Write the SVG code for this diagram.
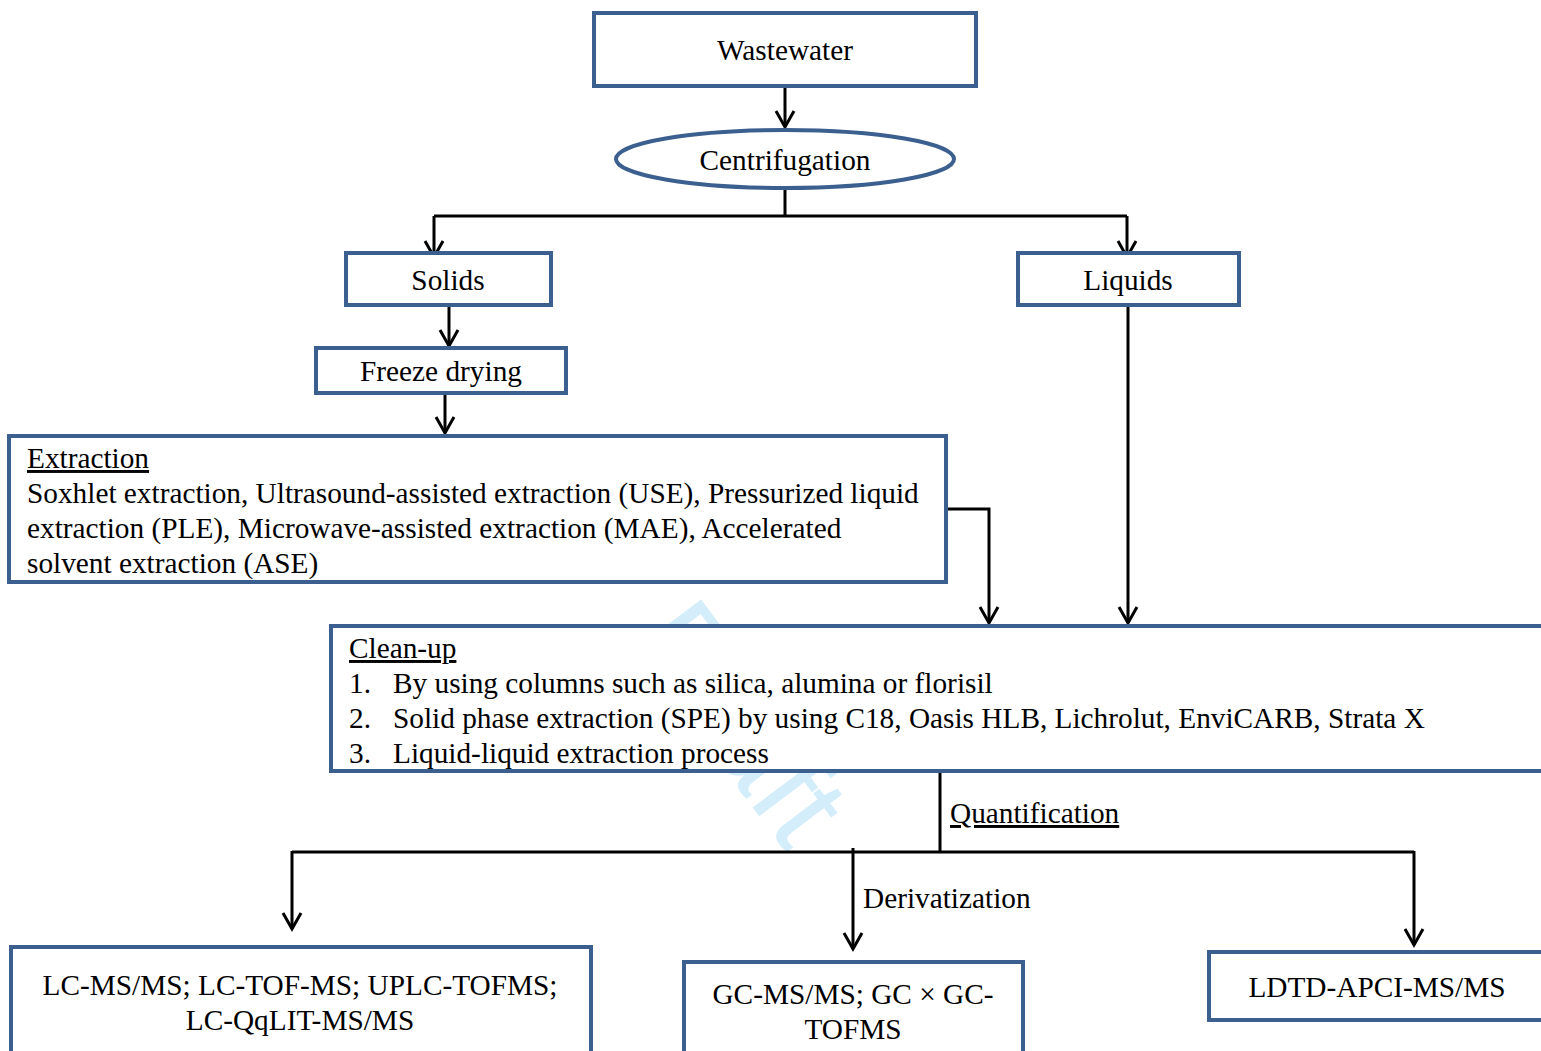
<svg xmlns="http://www.w3.org/2000/svg" width="1541" height="1051" viewBox="0 0 1541 1051">
<defs>
<style>
.box{fill:#fff;stroke:#3b5f8e;stroke-width:4}
.t{font-family:"Liberation Serif","Times New Roman",serif;font-size:29.3px;fill:#000}
.c{text-anchor:middle}
.u{text-decoration:underline}
.ln{fill:none;stroke:#000;stroke-width:3}
.wm{font-family:"Liberation Sans",Arial,sans-serif;font-size:122px;fill:#d3edfb}
</style>
<marker id="arr" markerUnits="userSpaceOnUse" markerWidth="30" markerHeight="30" refX="0" refY="0" viewBox="-20 -15 30 30" orient="auto" overflow="visible">
<path d="M-16,-9 L0,0 L-16,9" fill="none" stroke="#000" stroke-width="3"/>
</marker>
</defs>
<rect width="1541" height="1051" fill="#fff"/>
<text class="wm" transform="translate(628,642) rotate(53)">Draft</text>
<g id="connectors">
<line class="ln" x1="785" y1="86" x2="785" y2="127" marker-end="url(#arr)"/>
<polyline class="ln" points="785,188 785,216"/>
<polyline class="ln" points="434,216 1127,216"/>
<line class="ln" x1="434" y1="216" x2="434" y2="257" marker-end="url(#arr)"/>
<line class="ln" x1="1127" y1="216" x2="1127" y2="257" marker-end="url(#arr)"/>
<line class="ln" x1="449" y1="305" x2="449" y2="346" marker-end="url(#arr)"/>
<line class="ln" x1="445" y1="393" x2="445" y2="433" marker-end="url(#arr)"/>
<polyline class="ln" points="946,509 989,509 989,623" marker-end="url(#arr)"/>
<line class="ln" x1="1128" y1="305" x2="1128" y2="623" marker-end="url(#arr)"/>
<line class="ln" x1="940" y1="771" x2="940" y2="852"/>
<polyline class="ln" points="292,852 1414,852"/>
<line class="ln" x1="292" y1="851" x2="292" y2="929" marker-end="url(#arr)"/>
<line class="ln" x1="853" y1="848" x2="853" y2="949" marker-end="url(#arr)"/>
<line class="ln" x1="1414" y1="851" x2="1414" y2="945" marker-end="url(#arr)"/>
<text class="t u" x="950" y="823">Quantification</text>
<text class="t" x="863" y="908">Derivatization</text>
</g>
<g id="wastewater">
<rect class="box" x="594" y="13" width="382" height="73"/>
<text class="t c" x="785" y="60">Wastewater</text>
</g>
<g id="centrifugation">
<ellipse class="box" cx="785" cy="159" rx="169" ry="29"/>
<text class="t c" x="785" y="170">Centrifugation</text>
</g>
<g id="solids">
<rect class="box" x="346" y="253" width="205" height="52"/>
<text class="t c" x="448" y="290">Solids</text>
</g>
<g id="liquids">
<rect class="box" x="1018" y="253" width="221" height="52"/>
<text class="t c" x="1128" y="290">Liquids</text>
</g>
<g id="freeze-drying">
<rect class="box" x="316" y="348" width="250" height="45"/>
<text class="t c" x="441" y="381">Freeze drying</text>
</g>
<g id="extraction">
<rect class="box" x="9" y="436" width="937" height="146"/>
<text class="t u" x="27" y="468">Extraction</text>
<text class="t" x="27" y="503">Soxhlet extraction, Ultrasound-assisted extraction (USE), Pressurized liquid</text>
<text class="t" x="27" y="538">extraction (PLE), Microwave-assisted extraction (MAE), Accelerated</text>
<text class="t" x="27" y="573">solvent extraction (ASE)</text>
</g>
<g id="cleanup">
<rect class="box" x="331" y="626" width="1230" height="145"/>
<text class="t u" x="349" y="658">Clean-up</text>
<text class="t" x="349" y="693">1.</text>
<text class="t" x="393" y="693">By using columns such as silica, alumina or florisil</text>
<text class="t" x="349" y="728">2.</text>
<text class="t" x="393" y="728">Solid phase extraction (SPE) by using C18, Oasis HLB, Lichrolut, EnviCARB, Strata X</text>
<text class="t" x="349" y="763">3.</text>
<text class="t" x="393" y="763">Liquid-liquid extraction process</text>
</g>
<g id="lc">
<rect class="box" x="11" y="947" width="580" height="130"/>
<text class="t c" x="300" y="995">LC-MS/MS; LC-TOF-MS; UPLC-TOFMS;</text>
<text class="t c" x="300" y="1030">LC-QqLIT-MS/MS</text>
</g>
<g id="gc">
<rect class="box" x="684" y="962" width="339" height="120"/>
<text class="t c" x="853" y="1004">GC-MS/MS; GC × GC-</text>
<text class="t c" x="853" y="1039">TOFMS</text>
</g>
<g id="ldtd">
<rect class="box" x="1209" y="952" width="360" height="68"/>
<text class="t c" x="1377" y="997">LDTD-APCI-MS/MS</text>
</g>
</svg>
